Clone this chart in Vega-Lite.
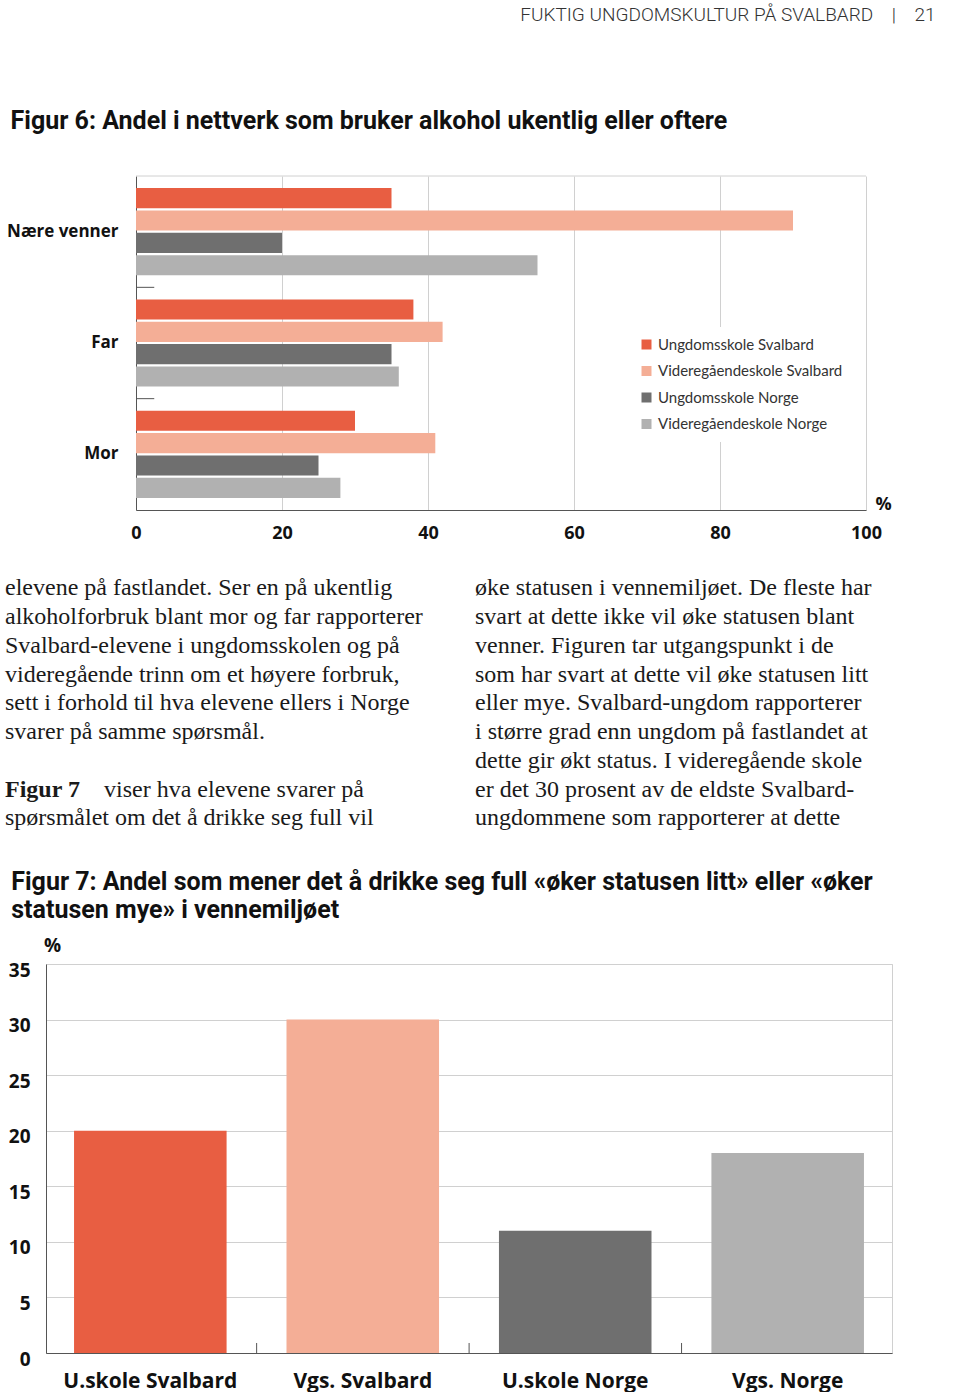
{
  "$schema": "https://vega.github.io/schema/vega-lite/v6.json",
  "background": "white",
  "padding": {"left": 5, "top": 5, "right": 0, "bottom": 0},
  "title": {
    "text": "FUKTIG UNGDOMSKULTUR PÅ SVALBARD\u00a0\u00a0\u00a0\u00a0|\u00a0\u00a0\u00a0\u00a021",
    "anchor": "end",
    "font": "Roboto",
    "fontSize": 19,
    "fontWeight": 300,
    "color": "#333333",
    "offset": 84.5,
    "dx": 43
  },
  "spacing": 5,
  "resolve": {"scale": {"color": "independent"}, "legend": {"color": "independent"}},
  "vconcat": [
    {
      "width": 820,
      "height": 334,
      "view": {"stroke": null},
      "title": {
        "text": "Figur 6: Andel i nettverk som bruker alkohol ukentlig eller oftere",
        "anchor": "start",
        "frame": "bounds",
        "dx": 4,
        "offset": 41.5,
        "font": "Roboto",
        "fontSize": 25,
        "fontWeight": "bold",
        "color": "#111111"
      },
      "data": {
        "values": [
          {"kategori": "Nære venner", "gruppe": "Ungdomsskole Svalbard", "andel": 35},
          {"kategori": "Nære venner", "gruppe": "Videregåendeskole Svalbard", "andel": 90},
          {"kategori": "Nære venner", "gruppe": "Ungdomsskole Norge", "andel": 20},
          {"kategori": "Nære venner", "gruppe": "Videregåendeskole Norge", "andel": 55},
          {"kategori": "Far", "gruppe": "Ungdomsskole Svalbard", "andel": 38},
          {"kategori": "Far", "gruppe": "Videregåendeskole Svalbard", "andel": 42},
          {"kategori": "Far", "gruppe": "Ungdomsskole Norge", "andel": 35},
          {"kategori": "Far", "gruppe": "Videregåendeskole Norge", "andel": 36},
          {"kategori": "Mor", "gruppe": "Ungdomsskole Svalbard", "andel": 30},
          {"kategori": "Mor", "gruppe": "Videregåendeskole Svalbard", "andel": 41},
          {"kategori": "Mor", "gruppe": "Ungdomsskole Norge", "andel": 25},
          {"kategori": "Mor", "gruppe": "Videregåendeskole Norge", "andel": 28}
        ]
      },
      "layer": [
        {
          "mark": {"type": "bar"},
          "encoding": {
            "y": {
              "field": "kategori",
              "type": "nominal",
              "sort": ["Nære venner", "Far", "Mor"],
              "scale": {"paddingInner": 0, "paddingOuter": 0},
              "axis": {
                "title": null,
                "grid": false,
                "offset": -90,
                "domainColor": "#555555",
                "ticks": false,
                "labelPadding": 18,
                "labelFont": "Open Sans",
                "labelFontWeight": "bold",
                "labelFontSize": 17,
                "labelColor": "#111111"
              }
            },
            "yOffset": {
              "field": "gruppe",
              "type": "nominal",
              "sort": ["Ungdomsskole Svalbard", "Videregåendeskole Svalbard", "Ungdomsskole Norge", "Videregåendeskole Norge"],
              "scale": {"paddingInner": 0.1, "paddingOuter": 0.54}
            },
            "x": {
              "field": "andel",
              "type": "quantitative",
              "scale": {"domain": [0, 100], "range": [90, 820], "nice": false},
              "axis": {
                "values": [0, 20, 40, 60, 80, 100],
                "title": "%",
                "titleX": 837,
                "titleY": -6,
                "titleAlign": "center",
                "titleBaseline": "middle",
                "titleFont": "Open Sans",
                "titleFontWeight": "bold",
                "titleFontSize": 18,
                "titleColor": "#111111",
                "grid": true,
                "gridColor": "#d0d0d0",
                "ticks": false,
                "domainColor": "#555555",
                "labelPadding": 14,
                "labelFlush": false,
                "labelFont": "Open Sans",
                "labelFontWeight": "bold",
                "labelFontSize": 18,
                "labelColor": "#111111"
              }
            },
            "color": {
              "field": "gruppe",
              "type": "nominal",
              "sort": ["Ungdomsskole Svalbard", "Videregåendeskole Svalbard", "Ungdomsskole Norge", "Videregåendeskole Norge"],
              "scale": {
                "domain": ["Ungdomsskole Svalbard", "Videregåendeskole Svalbard", "Ungdomsskole Norge", "Videregåendeskole Norge"],
                "range": ["#E85E42", "#F4AE96", "#6F6F6F", "#B1B1B1"]
              },
              "legend": {
                "title": null,
                "orient": "none",
                "legendX": 583,
                "legendY": 151,
                "padding": 10,
                "fillColor": "white",
                "symbolType": "square",
                "symbolSize": 100,
                "symbolStrokeWidth": 0,
                "labelFont": "Lato",
                "labelFontSize": 15,
                "labelLimit": 400,
                "labelColor": "#333333",
                "labelOffset": 4,
                "rowPadding": 10.5
              }
            }
          }
        },
        {
          "transform": [{"filter": "datum.gruppe === 'Ungdomsskole Svalbard' && datum.kategori === 'Nære venner'"}],
          "mark": {"type": "rule", "color": "#d0d0d0", "strokeWidth": 1},
          "encoding": {
            "y": {"field": "kategori", "type": "nominal", "sort": ["Nære venner", "Far", "Mor"], "bandPosition": 0, "scale": {"paddingInner": 0, "paddingOuter": 0}},
            "x": {"datum": 0},
            "x2": {"datum": 100}
          }
        },
        {
          "transform": [{"filter": "datum.gruppe === 'Ungdomsskole Svalbard' && datum.kategori !== 'Nære venner'"}],
          "mark": {"type": "rule", "color": "#555555", "strokeWidth": 1},
          "encoding": {
            "y": {"field": "kategori", "type": "nominal", "sort": ["Nære venner", "Far", "Mor"], "bandPosition": 0, "scale": {"paddingInner": 0, "paddingOuter": 0}},
            "x": {"datum": 0},
            "x2": {"datum": 2.5}
          }
        }
      ]
    },
    {
      "width": 846,
      "height": 316.25,
      "view": {"stroke": null},
      "data": {
        "values": [
          {"kol": 1, "linje": 1, "tekst": "elevene på fastlandet. Ser en på ukentlig"},
          {"kol": 1, "linje": 2, "tekst": "alkoholforbruk blant mor og far rapporterer"},
          {"kol": 1, "linje": 3, "tekst": "Svalbard-elevene i ungdomsskolen og på"},
          {"kol": 1, "linje": 4, "tekst": "videregående trinn om et høyere forbruk,"},
          {"kol": 1, "linje": 5, "tekst": "sett i forhold til hva elevene ellers i Norge"},
          {"kol": 1, "linje": 6, "tekst": "svarer på samme spørsmål."},
          {"kol": 1, "linje": 8, "innledning": "Figur 7", "tekst": "viser hva elevene svarer på"},
          {"kol": 1, "linje": 9, "tekst": "spørsmålet om det å drikke seg full vil"},
          {"kol": 2, "linje": 1, "tekst": "øke statusen i vennemiljøet. De fleste har"},
          {"kol": 2, "linje": 2, "tekst": "svart at dette ikke vil øke statusen blant"},
          {"kol": 2, "linje": 3, "tekst": "venner. Figuren tar utgangspunkt i de"},
          {"kol": 2, "linje": 4, "tekst": "som har svart at dette vil øke statusen litt"},
          {"kol": 2, "linje": 5, "tekst": "eller mye. Svalbard-ungdom rapporterer"},
          {"kol": 2, "linje": 6, "tekst": "i større grad enn ungdom på fastlandet at"},
          {"kol": 2, "linje": 7, "tekst": "dette gir økt status. I videregående skole"},
          {"kol": 2, "linje": 8, "tekst": "er det 30 prosent av de eldste Svalbard-"},
          {"kol": 2, "linje": 9, "tekst": "ungdommene som rapporterer at dette"}
        ]
      },
      "encoding": {
        "x": {"field": "kol", "type": "ordinal", "bandPosition": 0, "scale": {"type": "band", "range": [-41, 899], "paddingInner": 0, "paddingOuter": 0}, "axis": null},
        "y": {"field": "linje", "type": "ordinal", "scale": {"type": "band", "paddingInner": 0, "paddingOuter": 1, "align": 0.469}, "axis": null}
      },
      "layer": [
        {
          "transform": [{"filter": "!datum.innledning"}],
          "mark": {"type": "text", "align": "left", "baseline": "middle", "font": "Liberation Serif", "fontSize": 24, "color": "#1a1a1a"},
          "encoding": {"text": {"field": "tekst"}}
        },
        {
          "transform": [{"filter": "datum.innledning"}],
          "mark": {"type": "text", "align": "left", "baseline": "middle", "font": "Liberation Serif", "fontSize": 24, "fontWeight": "bold", "color": "#1a1a1a"},
          "encoding": {"text": {"field": "innledning"}}
        },
        {
          "transform": [{"filter": "datum.innledning"}],
          "mark": {"type": "text", "align": "left", "baseline": "middle", "font": "Liberation Serif", "fontSize": 24, "color": "#1a1a1a", "dx": 99},
          "encoding": {"text": {"field": "tekst"}}
        }
      ]
    },
    {
      "width": 846,
      "height": 389,
      "title": {
        "text": ["Figur 7: Andel som mener det å drikke seg full «øker statusen litt» eller «øker", "statusen mye» i vennemiljøet"],
        "anchor": "start",
        "frame": "bounds",
        "dx": 3,
        "offset": 13,
        "lineHeight": 28,
        "font": "Roboto",
        "fontSize": 25,
        "fontWeight": "bold",
        "color": "#111111"
      },
      "data": {
        "values": [
          {"gruppe": "U.skole Svalbard", "andel": 20},
          {"gruppe": "Vgs. Svalbard", "andel": 30},
          {"gruppe": "U.skole Norge", "andel": 11},
          {"gruppe": "Vgs. Norge", "andel": 18}
        ]
      },
      "layer": [
        {
          "mark": {"type": "bar"},
          "encoding": {
            "x": {
              "field": "gruppe",
              "type": "nominal",
              "sort": ["U.skole Svalbard", "Vgs. Svalbard", "U.skole Norge", "Vgs. Norge"],
              "scale": {"paddingInner": 0.282, "paddingOuter": 0.132},
              "axis": {
                "title": null,
                "labelAngle": 0,
                "ticks": false,
                "domainColor": "#555555",
                "labelPadding": 17,
                "labelFont": "Open Sans",
                "labelFontWeight": "bold",
                "labelFontSize": 21,
                "labelColor": "#111111"
              }
            },
            "y": {
              "field": "andel",
              "type": "quantitative",
              "scale": {"domain": [0, 35], "nice": false},
              "axis": {
                "values": [0, 5, 10, 15, 20, 25, 30, 35],
                "title": "%",
                "titleAngle": 0,
                "titleX": 6,
                "titleY": -19,
                "titleAlign": "center",
                "titleBaseline": "middle",
                "titleFont": "Open Sans",
                "titleFontWeight": "bold",
                "titleFontSize": 19,
                "titleColor": "#111111",
                "grid": true,
                "gridColor": "#d0d0d0",
                "ticks": false,
                "domainColor": "#555555",
                "labelPadding": 16,
                "labelOffset": 6,
                "labelFont": "Open Sans",
                "labelFontWeight": "bold",
                "labelFontSize": 19,
                "labelColor": "#111111"
              }
            },
            "color": {
              "field": "gruppe",
              "type": "nominal",
              "scale": {
                "domain": ["U.skole Svalbard", "Vgs. Svalbard", "U.skole Norge", "Vgs. Norge"],
                "range": ["#E85E42", "#F4AE96", "#6F6F6F", "#B1B1B1"]
              },
              "legend": null
            }
          }
        },
        {
          "transform": [{"filter": "datum.gruppe !== 'Vgs. Norge'"}],
          "mark": {"type": "rule", "color": "#555555", "strokeWidth": 1},
          "encoding": {
            "x": {"field": "gruppe", "type": "nominal", "sort": ["U.skole Svalbard", "Vgs. Svalbard", "U.skole Norge", "Vgs. Norge"], "bandPosition": 1.197, "scale": {"paddingInner": 0.282, "paddingOuter": 0.132}},
            "y": {"datum": 0},
            "y2": {"datum": 0.9}
          }
        }
      ]
    }
  ],
  "config": {
    "font": "Open Sans",
    "view": {"stroke": "#d0d0d0"},
    "bar": {"stroke": null}
  }
}
